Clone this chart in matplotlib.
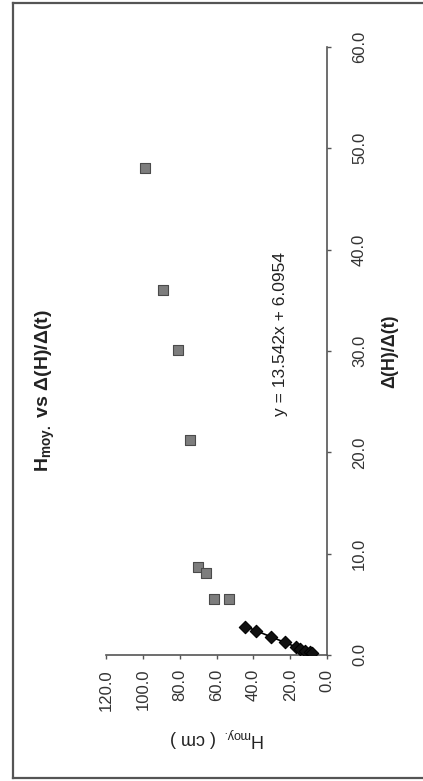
import matplotlib
matplotlib.use("Agg")
import matplotlib.pyplot as plt
from matplotlib.lines import Line2D

plt.rcParams["font.family"] = ["Liberation Sans", "DejaVu Sans"]
plt.rcParams["mathtext.default"] = "regular"

# Rate of level change (x) and mean height in cm (y)
rate_diamonds = [2.8, 2.4, 1.8, 1.3, 0.8, 0.6, 0.4, 0.25, 0.15]
h_diamonds = [44.5, 38.5, 30.5, 23.0, 17.0, 14.5, 12.0, 9.5, 8.0]

rate_squares = [48.1, 36.0, 30.1, 21.2, 8.7, 8.1, 5.5, 5.5]
h_squares = [98.6, 88.8, 81.1, 74.5, 70.3, 65.8, 61.5, 53.0]

# Linear fit shown on the chart
slope = 13.542
intercept = 6.0954

rate_ticks = [0, 10, 20, 30, 40, 50, 60]
h_ticks = [0, 20, 40, 60, 80, 100, 120]

W, H = 423, 781
fig = plt.figure(figsize=(W / 100, H / 100), dpi=100)
fig.patch.set_facecolor("white")

# The chart is laid out turned a quarter turn: rate runs upward, height runs leftward
ax = fig.add_axes([106 / W, 1 - 655 / H, (327 - 106) / W, (655 - 47) / H])
ax.set_xlim(120, 0)
ax.set_ylim(0, 60)

ax.scatter(h_squares, rate_squares, marker="s", s=55, color="#7d7d7d",
           edgecolors="#4a4a4a", linewidths=0.8, zorder=3)
ax.scatter(h_diamonds, rate_diamonds, marker="D", s=40, color="#111111",
           edgecolors="#000000", linewidths=0.8, zorder=4)

fit_x = [min(rate_diamonds), max(rate_diamonds)]
fit_y = [slope * v + intercept for v in fit_x]
ax.plot(fit_y, fit_x, color="black", lw=1.2, zorder=3)

for side in ("top", "left"):
    ax.spines[side].set_visible(False)
for side in ("bottom", "right"):
    ax.spines[side].set_color("#555555")
    ax.spines[side].set_linewidth(1.2)

ax.yaxis.tick_right()
ax.set_yticks(rate_ticks)
ax.set_yticklabels([f"{v:.1f}" for v in rate_ticks], rotation=90,
                   va="center", ha="left", fontsize=12, color="#333333")
ax.set_xticks(h_ticks)
ax.set_xticklabels([f"{v:.1f}" for v in h_ticks], rotation=90,
                   va="top", ha="center", fontsize=12, color="#333333")
ax.tick_params(axis="y", direction="out", length=3, width=1, colors="#555555",
               pad=15, labelcolor="#333333")
ax.tick_params(axis="x", direction="out", length=3, width=1, colors="#555555",
               pad=7, labelcolor="#333333")

fig.text(45 / W, 1 - 391 / H, r"H$_{moy.}$ vs Δ(H)/Δ(t)", rotation=90,
         ha="center", va="center", fontsize=14, fontweight="bold", color="#222222")
fig.text(390 / W, 1 - 351 / H, "Δ(H)/Δ(t)", rotation=90,
         ha="center", va="center", fontsize=13, fontweight="bold", color="#222222")
fig.text(217 / W, 1 - 737 / H, r"H$_{moy.}$ ( cm )", rotation=180,
         ha="center", va="center", fontsize=13, color="#222222")
fig.text(280 / W, 1 - 334 / H, "y = 13.542x + 6.0954", rotation=90,
         ha="center", va="center", fontsize=12.5, color="#222222")

# Outer frame (left, top, bottom)
frame_kw = dict(color="#555555", lw=1.6, transform=fig.transFigure)
fig.add_artist(Line2D([13 / W, 13 / W], [1 - 3 / H, 1 - 778 / H], **frame_kw))
fig.add_artist(Line2D([13 / W, 1], [1 - 3 / H, 1 - 3 / H], **frame_kw))
fig.add_artist(Line2D([13 / W, 1], [1 - 778 / H, 1 - 778 / H], **frame_kw))

fig.savefig("out.png", dpi=100, facecolor="white")
